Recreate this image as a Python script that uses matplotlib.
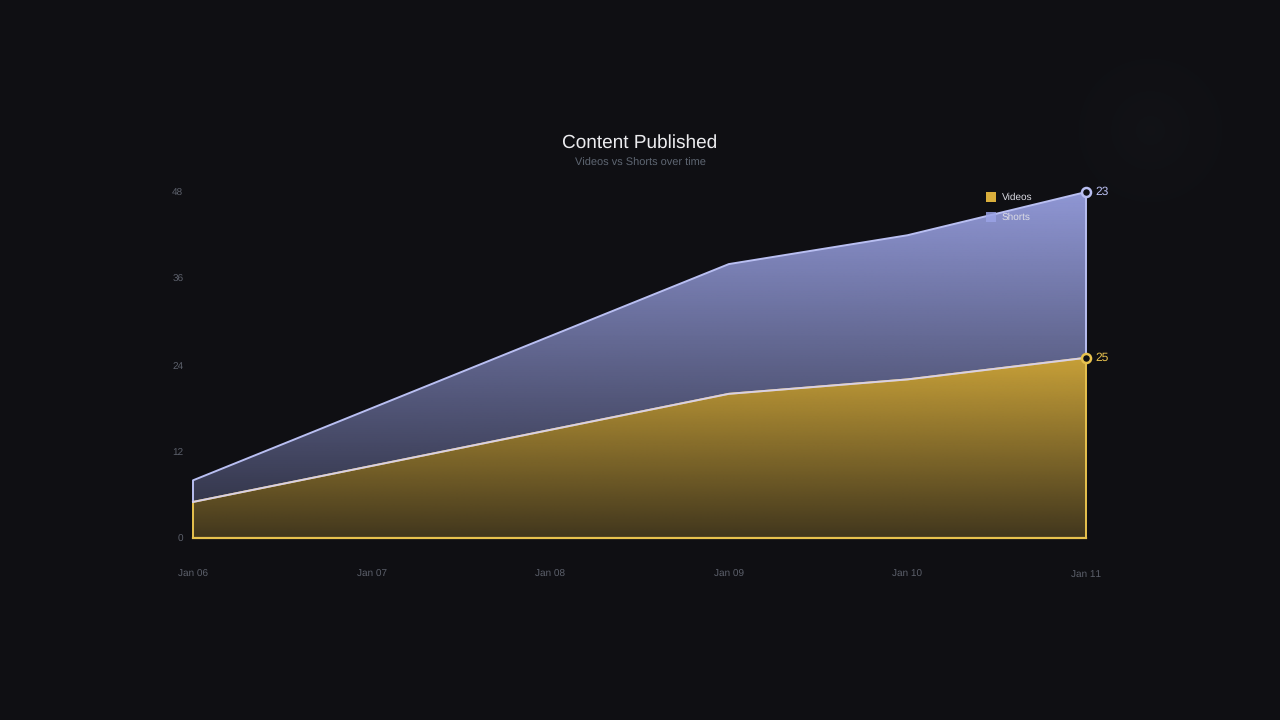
import numpy as np
import matplotlib
matplotlib.use("Agg")
import matplotlib.pyplot as plt
from matplotlib.colors import to_rgb
from matplotlib.patches import Rectangle

# ---- data ----
dates = ["Jan 06", "Jan 07", "Jan 08", "Jan 09", "Jan 10", "Jan 11"]
videos = [5, 10, 15, 20, 22, 25]
shorts = [3, 8, 13, 18, 20, 23]
y_ticks = [0, 12, 24, 36, 48]

BG = "#0f0f13"
GOLD = "#d9ae3c"
GOLD_LINE = "#e8c24e"
LAV = "#9ba3e6"
LAV_LINE = "#b9bff2"

plt.rcParams['font.family'] = ['Liberation Sans', 'DejaVu Sans']
plt.rcParams['text.hinting'] = 'no_hinting'
plt.rcParams['text.hinting_factor'] = 1

fig = plt.figure(figsize=(12.8, 7.2), dpi=100, facecolor=BG)

# subtle background glow (upper right)
bg = fig.add_axes([0, 0, 1, 1], zorder=-10)
bg.set_axis_off()
yy, xx = np.mgrid[0:720, 0:1280]
d = np.sqrt((xx - 1150) ** 2 + (yy - 130) ** 2)
glow = np.clip(1 - d / 150, 0, 1) ** 2 * 0.018
base = np.array(to_rgb(BG))
img = base[None, None, :] + glow[:, :, None] * np.array([0.7, 0.8, 0.8])[None, None, :]
bg.imshow(np.clip(img, 0, 1), extent=[0, 1, 0, 1], aspect='auto', origin='upper')
bg.set_xlim(0, 1)
bg.set_ylim(0, 1)

ax = fig.add_axes([193 / 1280, 1 - 538 / 720, (1086 - 193) / 1280, (538 - 192) / 720])
ax.set_facecolor('none')
x = np.arange(len(dates))
v = np.array(videos, dtype=float)
s = np.array(shorts, dtype=float)
tot = v + s

ax.set_xlim(x[0], x[-1])
ax.set_ylim(0, 48)


def grad_fill(xs, lo, hi, color, top, a_top, a_bot, z):
    poly = ax.fill_between(xs, lo, hi, facecolor='none', edgecolor='none', zorder=z)
    n = 256
    rgb = np.array(to_rgb(color))
    alpha = np.linspace(a_top, a_bot, n)
    arr = np.zeros((n, 2, 4))
    arr[:, :, :3] = rgb
    arr[:, :, 3] = alpha[:, None]
    im = ax.imshow(arr, extent=[xs[0], xs[-1], 0, top], aspect='auto',
                   origin='upper', zorder=z, interpolation='bilinear')
    path = poly.get_paths()[0]
    im.set_clip_path(path, transform=ax.transData)
    return im


grad_fill(x, v, tot, LAV, 48, 0.92, 0.2, 2)
grad_fill(x, 0, v, GOLD, 25, 0.92, 0.25, 3)

# outlines
ax.plot(np.r_[x[0], x, x[-1]], np.r_[0, v, 0], color=GOLD_LINE, lw=1.4, zorder=4,
        solid_joinstyle='round', clip_on=False)
ax.plot([x[0], x[-1]], [0, 0], color=GOLD_LINE, lw=1.6, zorder=4, clip_on=False)
ax.plot(np.r_[x[0], x, x[-1]], np.r_[v[0], tot, v[-1]], color=LAV_LINE, lw=1.4, zorder=5,
        solid_joinstyle='round', clip_on=False)
ax.plot(x, v, color="#d8d0e6", lw=1.4, zorder=5, clip_on=False)

# end markers
ax.plot(x[-1], tot[-1], 'o', ms=6.5, mfc=BG, mec=LAV_LINE, mew=1.8, zorder=6, clip_on=False)
ax.plot(x[-1], v[-1], 'o', ms=6.5, mfc=BG, mec=GOLD_LINE, mew=1.8, zorder=6, clip_on=False)
ax.annotate(f"{shorts[-1]}", (x[-1], tot[-1]), xytext=(7, 0), textcoords='offset points',
            color=LAV_LINE, fontsize=8.5, va='center', ha='left')
ax.annotate(f"{videos[-1]}", (x[-1], v[-1]), xytext=(7, 0), textcoords='offset points',
            color=GOLD_LINE, fontsize=8.5, va='center', ha='left')

# axes styling
for sp in ax.spines.values():
    sp.set_visible(False)
ax.set_xticks(x)
ax.set_xticklabels(dates)
ax.set_yticks(y_ticks)
ax.set_yticklabels([str(t) for t in y_ticks])
ax.tick_params(axis='x', length=0, pad=23, labelsize=7, labelcolor="#5c606b")
ax.tick_params(axis='y', length=0, pad=7, labelsize=7, labelcolor="#5c606b")
ax.grid(False)

# titles
fig.text(640 / 1280, 1 - 143 / 720, "Content Published", ha='center', va='center',
         fontsize=14, color="#ececef")
fig.text(640 / 1280, 1 - 163 / 720, "Videos vs Shorts over time", ha='center', va='center',
         fontsize=8, color="#5f6773")

# legend
for i, (lab, col, a) in enumerate([("Videos", GOLD, 1.0), ("Shorts", LAV, 0.85)]):
    yc = 197 + 20 * i
    fig.patches.append(Rectangle((986 / 1280, 1 - (yc + 5) / 720), 10 / 1280, 10 / 720,
                                 transform=fig.transFigure, facecolor=col, alpha=a,
                                 edgecolor='none', zorder=10))
    fig.text(1002 / 1280, 1 - yc / 720, lab, ha='left', va='center', fontsize=7,
             color="#dcdce4", zorder=11)

fig.savefig("out.png", dpi=100, facecolor=BG)
